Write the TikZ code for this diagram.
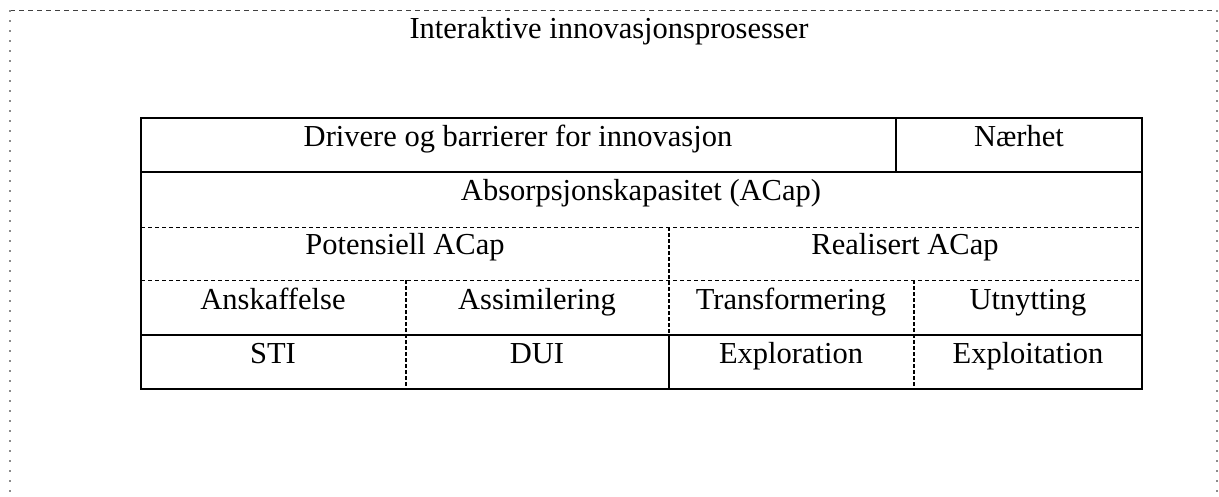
\documentclass[tikz,border=0pt]{standalone}
\usepackage{fontspec}
\setmainfont{Liberation Serif}

\begin{document}
\begin{tikzpicture}[
  x=1pt, y=-1pt,
  every node/.style={font=\fontsize{30.5}{36}\selectfont, inner sep=0pt, anchor=base},
  tableline/.style={line width=2.2pt},
  rowline/.style={line width=0.9pt, dash pattern=on 4pt off 3pt},
  colline/.style={line width=2.4pt, dash pattern=on 3.5pt off 2.5pt},
  topline/.style={line width=1pt, dash pattern=on 5pt off 4pt, black!75},
  sideline/.style={line width=1.3pt, dash pattern=on 1.5pt off 8.5pt, black!45}
]
  \useasboundingbox (0,0) rectangle (1219,496);

  % outer frame
  \draw[topline] (10,10) -- (1217,10);
  \draw[sideline] (10,10) -- (10,496);
  \draw[sideline] (1217,10) -- (1217,496);

  \node (title) at (609,38) {Interaktive innovasjonsprosesser};

  % table
  \draw[tableline] (141,118) rectangle (1142,389);
  \draw[tableline] (141,172) -- (1142,172);
  \draw[tableline] (896,118) -- (896,172);
  \draw[rowline] (141,227) -- (1142,227);
  \draw[rowline] (141,280) -- (1142,280);
  \draw[tableline] (141,335) -- (1142,335);
  \draw[colline] (669,227) -- (669,335);
  \draw[tableline] (669,335) -- (669,389);
  \draw[colline] (406,280) -- (406,389);
  \draw[colline] (914,280) -- (914,389);

  \node (driv) at (518,146) {Drivere og barrierer for innovasjon};
  \node (naer) at (1019,146) {Nærhet};
  \node (acap) at (641,200) {Absorpsjonskapasitet (ACap)};
  \node (pot) at (405,254) {Potensiell ACap};
  \node (real) at (905,254) {Realisert ACap};
  \node (ansk) at (273,309) {Anskaffelse};
  \node (assi) at (537,309) {Assimilering};
  \node (trans) at (791,309) {Transformering};
  \node (utn) at (1028,309) {Utnytting};
  \node (sti) at (273,363) {STI};
  \node (dui) at (537,363) {DUI};
  \node (expr) at (791,363) {Exploration};
  \node (expt) at (1028,363) {Exploitation};
\end{tikzpicture}
\end{document}
